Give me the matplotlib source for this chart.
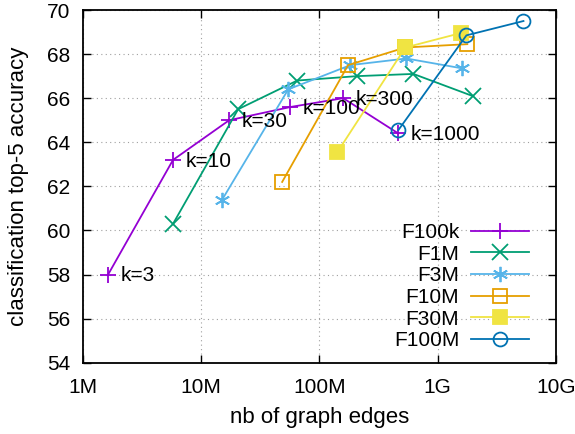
import matplotlib
matplotlib.use("Agg")
import matplotlib.pyplot as plt
from matplotlib.ticker import FixedLocator, NullLocator

plt.rcParams['font.family'] = ['Liberation Sans', 'DejaVu Sans']

# data: x = number of graph edges, y = top-5 accuracy
f100k_x = [1.64e6, 5.8e6, 17.3e6, 57e6, 159e6, 465e6]
f100k_y = [58.0, 63.2, 65.0, 65.6, 66.0, 64.4]
k_labels = ["k=3", "k=10", "k=30", "k=100", "k=300", "k=1000"]

f1m_x = [5.8e6, 20.6e6, 65e6, 209e6, 623e6, 1.97e9]
f1m_y = [60.3, 65.5, 66.8, 67.0, 67.1, 66.1]

f3m_x = [15.1e6, 54.6e6, 183e6, 543e6, 1.62e9]
f3m_y = [61.4, 66.4, 67.5, 67.8, 67.35]

f10m_x = [48.5e6, 175e6, 533e6, 1.78e9]
f10m_y = [62.2, 67.5, 68.3, 68.45]

f30m_x = [142e6, 533e6, 1.56e9]
f30m_y = [63.55, 68.3, 68.95]

f100m_x = [465e6, 1.75e9, 5.31e9]
f100m_y = [64.55, 68.85, 69.5]

series = [
    ("F100k", f100k_x, f100k_y, "#9400d3", "+", True),
    ("F1M", f1m_x, f1m_y, "#009e73", "x", True),
    ("F3M", f3m_x, f3m_y, "#56b4e9", "*", True),
    ("F10M", f10m_x, f10m_y, "#e69f00", "s", False),
    ("F30M", f30m_x, f30m_y, "#f0e442", "s", True),
    ("F100M", f100m_x, f100m_y, "#0072b2", "o", False),
]

FS = 15
LFS = 16

fig = plt.figure(figsize=(5.75, 4.34), dpi=100)
L, R, T, B = 82.7 / 575, 556 / 575, 1 - 10 / 434, 1 - 362.7 / 434
ax = fig.add_axes([L, B, R - L, T - B])

for name, xs, ys, col, mk, filled in series:
    kw = dict(color=col, lw=1.3, marker=mk, label=name, clip_on=False)
    if mk == "*":
        kw.update(marker=(6, 2, 0), ms=11, mew=1.3)
    elif mk in "+x":
        kw.update(ms=11, mew=1.3)
    elif mk == "s":
        if filled:
            kw.update(ms=10, mfc=col, mec=col, mew=1.3)
        else:
            kw.update(ms=10, mfc="none", mec=col, mew=1.3)
    elif mk == "o":
        kw.update(ms=10, mfc="none", mec=col, mew=1.3)
    ax.plot(xs, ys, **kw)

for x, y, lab in zip(f100k_x, f100k_y, k_labels):
    ax.annotate(lab, (x, y), xytext=(9, -1), textcoords="offset points",
                ha="left", va="center", fontsize=FS, color="black", zorder=10)

ax.set_xscale("log")
ax.set_xlim(1e6, 1e10)
ax.set_ylim(54, 70)
xt = [1e6, 1e7, 1e8, 1e9, 1e10]
ax.xaxis.set_major_locator(FixedLocator(xt))
ax.xaxis.set_minor_locator(NullLocator())
ax.set_xticklabels(["1M", "10M", "100M", "1G", "10G"])
ax.set_yticks(range(54, 71, 2))
ax.tick_params(direction="in", length=6, width=1, top=True, right=True,
               labelsize=FS)
ax.tick_params(axis="y", pad=9)
ax.tick_params(axis="x", pad=11)
ax.grid(True, color="#a0a0a0", linestyle=(0, (1, 3)), linewidth=0.8)
for s in ax.spines.values():
    s.set_linewidth(1.3)

ax.set_xlabel("nb of graph edges", fontsize=LFS, labelpad=7)
ax.set_ylabel("classification top-5 accuracy", fontsize=LFS, labelpad=13)

leg = ax.legend(loc="lower right", bbox_to_anchor=(0.970, 0.0), frameon=False,
                markerfirst=False, fontsize=FS, handlelength=2.8,
                labelspacing=0.125, handletextpad=0.56, borderaxespad=0.2)
for t in leg.get_texts():
    t.set_ha("right")

fig.savefig("out.png", dpi=100)
